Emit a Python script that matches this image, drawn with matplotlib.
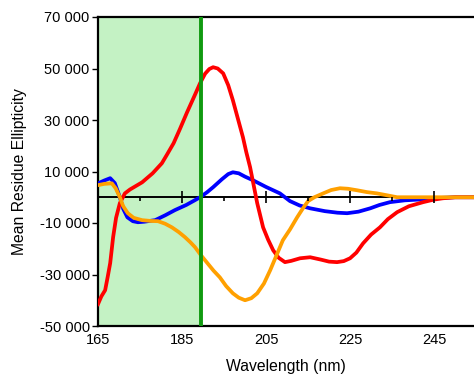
import numpy as np
import matplotlib
matplotlib.use("Agg")
import matplotlib.pyplot as plt
from matplotlib.ticker import FuncFormatter, FixedLocator

plt.rcParams['font.family'] = ['Liberation Sans', 'DejaVu Sans']

# ---------------------------------------------------------
# Data (wavelength nm, MRE)
# ---------------------------------------------------------
blue_nm = [165, 166.5, 167.9, 169, 170.2, 171, 172, 173.3, 174.5, 176, 178.6,
           181, 183.3, 186, 188, 189.3, 191, 192.4, 194.5, 196, 197.1, 198.5,
           200, 201.9, 205, 208.3, 210.7, 213, 215.5, 219, 222, 224.3, 227,
           229.8, 232, 234.5, 238, 242.4, 246, 250, 254.5]
blue_val = [5400, 6500, 7400, 5500, 0, -4500, -7800, -9300, -9700, -9500, -8900,
            -7000, -5000, -3000, -1200, 0, 2000, 3900, 7000, 9000, 9700, 9300,
            8000, 6600, 4000, 1500, -1500, -3200, -4300, -5400, -6000, -6200, -5600,
            -4300, -3000, -1900, -1200, -800, -300, 0, 0]

red_nm = [165, 165.8, 166.7, 167.3, 167.9, 168.6, 169.3, 170.2, 171.4, 172.6,
          175.5, 178, 180.2, 181.4, 183, 184.5, 186.2, 188, 189.3, 190.5, 191.5,
          192.4, 193.5, 194.8, 196, 197.1, 198.3, 199.5, 200.3, 201.2, 202.9,
          204.3, 205.5, 206.7, 208, 209.5, 211, 213.1, 215.5, 218, 220, 221.9,
          223.5, 225, 226.5, 228.1, 230, 232.1, 234, 236.2, 239, 242.4, 245,
          247.1, 250, 254.5]
red_val = [-41500, -38500, -36100, -31000, -25600, -15500, -8000, -2300, 1500, 3000,
           5800, 9300, 13200, 16500, 21000, 26500, 33000, 39500, 44300, 48000, 49800,
           50500, 50000, 48100, 43500, 37700, 30500, 23300, 17500, 11700, -2300,
           -11700, -16500, -20600, -23500, -25200, -24700, -23700, -23300, -24200, -25000, -25200,
           -24800, -23700, -21500, -17900, -14500, -11700, -8500, -5800, -3500, -1900, -900,
           -400, 0, 0]

orange_nm = [165, 166.5, 168.3, 169.2, 170.2, 171, 172.1, 173.5, 175.5, 177.5,
             179.3, 181, 182.6, 184.2, 185.7, 187, 188.1, 189.5, 191, 192.5, 194,
             195.5, 197.1, 198.5, 200, 201.5, 202.9, 204.5, 206, 207.5, 209, 210.7,
             212.4, 213.7, 215, 216.5, 218.6, 220.5, 222.6, 224.5, 226.7, 229,
             231.4, 234, 236.2, 254.5]
orange_val = [4700, 5200, 5400, 3500, 0, -3500, -6200, -8000, -8900, -9200,
              -9300, -10300, -11700, -13500, -15500, -17500, -19400, -22500, -25500, -28500, -31100,
              -34500, -37300, -39000, -40000, -39200, -37300, -33500, -28300, -22500, -16700, -12500,
              -7800, -4500, -1500, 0, 1500, 2800, 3500, 3300, 2700, 2000,
              1500, 700, 0, 0]

region_start = 165
region_end = 189.5

x_ticks = [165, 185, 205, 225, 245]
zero_major = [185, 205, 225, 245]
zero_minor = [175, 195, 215, 235]
y_ticks = [-50000, -30000, -10000, 10000, 30000, 50000, 70000]

XLIM = (165, 254.5)
YLIM = (-50000, 70000)


def thousands(v, pos):
    return f"{int(round(v)):,}".replace(",", " ")


# ---------------------------------------------------------
# Plot
# ---------------------------------------------------------
fig = plt.figure(figsize=(4.74, 3.74), dpi=100)
pos = [98 / 474, 48 / 374, 376 / 474, 309 / 374]
ax = fig.add_axes(pos)

ax.axvspan(region_start, region_end, color='#c4f2c4', lw=0, zorder=0)
ax.axhline(0, color='black', lw=1.4, zorder=2)
ax.plot(blue_nm, blue_val, color='#0000ff', lw=2.7, zorder=3)
ax.plot(red_nm, red_val, color='#ff0000', lw=2.7, zorder=4)
ax.plot(orange_nm, orange_val, color='#ffa000', lw=2.7, zorder=5)
ax.axvline(region_end, color='#109a10', lw=2.8, zorder=6)

ax.set_xlim(*XLIM)
ax.set_ylim(*YLIM)
ax.set_xticks(x_ticks)
ax.set_yticks(y_ticks)
ax.yaxis.set_major_formatter(FuncFormatter(thousands))
ax.tick_params(axis='x', length=0, labelsize=10.5, pad=5)
ax.tick_params(axis='y', direction='out', length=4, width=1, labelsize=10.5, pad=2)
ax.spines['right'].set_visible(False)
for s in ['left', 'bottom', 'top']:
    ax.spines[s].set_linewidth(1.6)
ax.set_xlabel("Wavelength (nm)", fontsize=11.3, labelpad=9)
ax.set_ylabel("Mean Residue Ellipticity", fontsize=11.3, labelpad=9)

# tick marks on the zero line (separate overlay axes, same limits)
ax0 = fig.add_axes(pos)
ax0.set_xlim(*XLIM)
ax0.set_ylim(*YLIM)
ax0.patch.set_visible(False)
for s in ['left', 'right', 'top', 'bottom']:
    ax0.spines[s].set_visible(False)
ax0.spines['bottom'].set_position(('data', 0))
ax0.xaxis.set_major_locator(FixedLocator(zero_major))
ax0.xaxis.set_minor_locator(FixedLocator(zero_minor))
ax0.tick_params(axis='x', which='major', direction='inout', length=9, width=1.2,
                labelbottom=False)
ax0.tick_params(axis='x', which='minor', direction='out', length=3, width=1.2)
ax0.tick_params(axis='y', left=False, labelleft=False)
ax0.set_zorder(ax.get_zorder() + 1)

fig.savefig("out.png", dpi=100)
